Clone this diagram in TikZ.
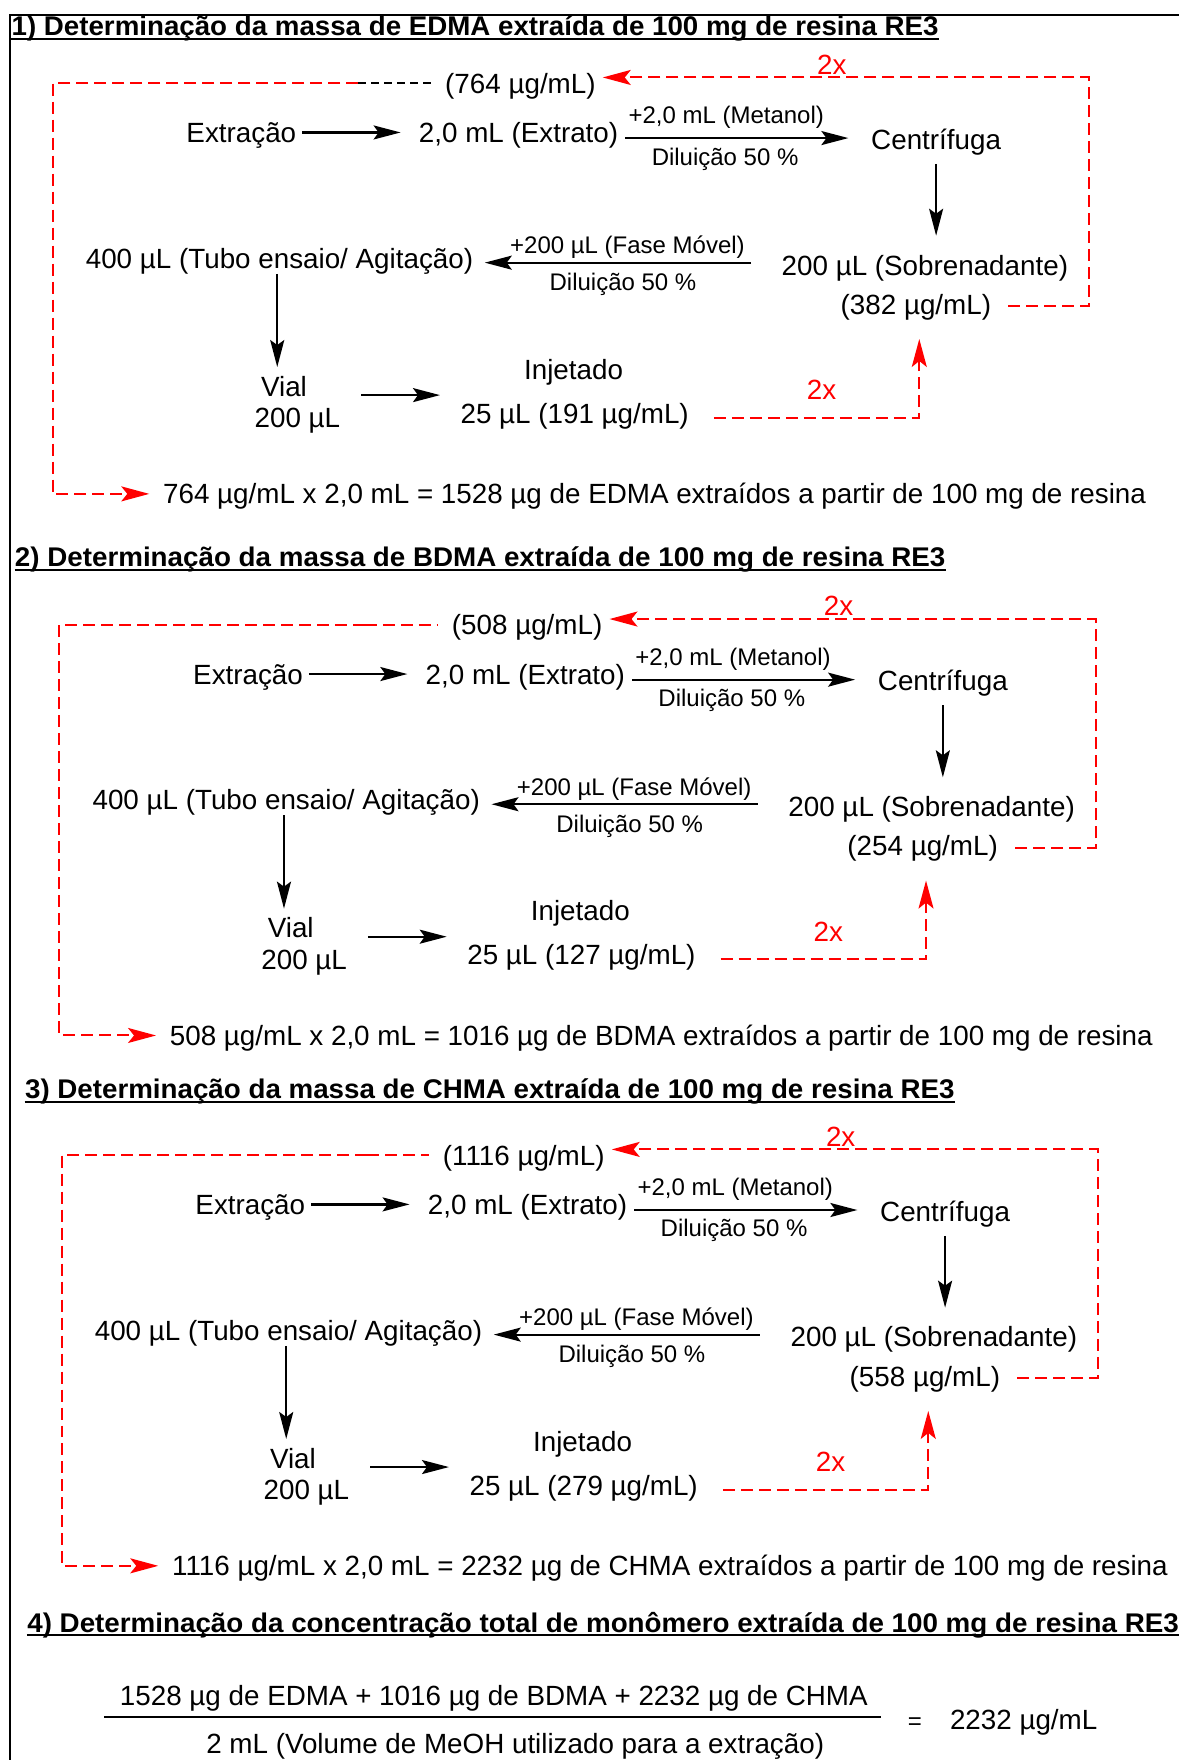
\documentclass[tikz,border=0pt]{standalone}
\usepackage{fontspec}
\setmainfont{Liberation Sans}
\usetikzlibrary{arrows.meta,calc}
\tikzset{
 txt/.style={inner sep=0pt, anchor=base, font=\fontsize{13.9}{16}\selectfont},
 sm/.style={inner sep=0pt, anchor=base, font=\fontsize{12}{14}\selectfont},
 ttl/.style={inner sep=0pt, anchor=base west, font=\bfseries\fontsize{13.5}{16}\selectfont},
 blk/.style={line width=1.1pt, -{Stealth[length=13.5pt,width=7pt,inset=2.5pt]}},
 rd/.style={red, line width=1pt, dash pattern=on 6pt off 3pt},
 rtip/.style={-{Stealth[length=14pt,width=7.5pt,inset=3pt]}},
 bd/.style={black, line width=0.8pt, dash pattern=on 4pt off 2.5pt},
 uline/.style={line width=1pt},
}
% #1 dx, #2 dy, #3 prefix, #4 top conc, #5 sob conc, #6 inj conc, #7 final text, #8 style of dashed piece
\newcommand\flowsec[8]{%
\begin{scope}[shift={(#1,#2)}]
 \node[txt, anchor=base east] (#3top) at (531,83) {(#4 µg/mL)};
 \node[txt] (#3ext) at (215,127) {Extração};
 \node[txt] (#3extr) at (462,127) {2,0 mL (Extrato)};
 \node[txt] (#3centr) at (834,133) {Centrífuga};
 \node[sm] (#3met) at (647,110) {+2,0 mL (Metanol)};
 \node[sm] (#3dil1) at (646,147) {Diluição 50 \%};
 \node[txt] (#3sob) at (824,245) {200 µL (Sobrenadante)};
 \node[txt] (#3sobc) at (816,280) {(#5 µg/mL)};
 \node[sm] (#3fase) at (559,226) {+200 µL (Fase Móvel)};
 \node[sm] (#3dil2) at (555,259) {Diluição 50 \%};
 \node[txt] (#3tubo) at (249,239) {400 µL (Tubo ensaio/ Agitação)};
 \node[txt] (#3vial) at (253,353) {Vial};
 \node[txt] (#3vialv) at (265,381) {200 µL};
 \node[txt] (#3inj) at (511,338) {Injetado};
 \node[txt] (#3injc) at (512,377) {25 µL (#6 µg/mL)};
 \node[txt, text=red] (#3twoa) at (741,66) {2x};
 \node[txt, text=red] (#3twob) at (732,356) {2x};
 \node[txt, anchor=base west] (#3fin) at (145,449) {#7};
 % black arrows
 \draw[blk] ($(#3ext.base east)+(5,-9)$) -- ($(#3extr.base west)+(-16,-9)$);
 \draw[blk] ($(#3extr.base east)+(6,-4)$) -- ($(#3centr.base west)+(-20,-10)$);
 \draw[blk] ($(#3centr.base)+(0,13)$) -- ($(#3sob.base)+(10,-35)$);
 \draw[blk] ($(#3sob.base west)+(-27,-11)$) -- ($(#3tubo.base east)+(10,-5)$);
 \draw[blk] ($(#3tubo.base)+(-2,5)$) -- ($(#3vial.base)+(-6,-26)$);
 \draw[blk] ($(#3vial.base east)+(48,-1)$) -- ($(#3injc.base west)+(-18,-25)$);
 % red dashed loops
 \draw[rd, rtip] (319,74) -- (47,74) -- (47,440) -- ($(#3fin.base west)+(-12,-9)$);
 \draw[rd, #8] (319,74) -- ($(#3top.base west)+(-12,-9)$);
 \draw[rd, rtip] ($(#3sobc.base east)+(15,-7)$) -| (970,69) -- ($(#3top.base east)+(6,-14)$);
 \draw[rd, rtip] ($(#3injc.base east)+(22,-5)$) -| ($(#3sobc.base)+(3,22)$);
\end{scope}}
\begin{document}
\begin{tikzpicture}[x=0.56143pt,y=-0.56143pt]
\useasboundingbox (0,0) rectangle (1050,1568);
\fill[white] (0,0) rectangle (1050,1568);
% frame
\draw[line width=1pt] (1050,13) -- (9,13) -- (9,1568);
% titles
\node[ttl] (t1) at (10,32) {\resizebox{463.7pt}{\height}{1) Determinação da massa de EDMA extraída de 100 mg de resina RE3}};
\draw[uline] ($(t1.base west)+(0,3)$) -- ($(t1.base east)+(0,3)$);
\node[ttl] (t2) at (13,505) {\resizebox{465.4pt}{\height}{2) Determinação da massa de BDMA extraída de 100 mg de resina RE3}};
\draw[uline] ($(t2.base west)+(0,3)$) -- ($(t2.base east)+(0,3)$);
\node[ttl] (t3) at (22,979) {\resizebox{464.9pt}{\height}{3) Determinação da massa de CHMA extraída de 100 mg de resina RE3}};
\draw[uline] ($(t3.base west)+(0,3)$) -- ($(t3.base east)+(0,3)$);
\node[ttl] (t4) at (24,1454) {\resizebox{576pt}{\height}{4) Determinação da concentração total de monômero extraída de 100 mg de resina RE3}};
\draw[uline] ($(t4.base west)+(0,3)$) -- ($(t4.base east)+(0,3)$);
% sections
\flowsec{0}{0}{a}{764}{382}{191}{764 µg/mL x 2,0 mL = 1528 µg de EDMA extraídos a partir de 100 mg de resina}{bd}
\flowsec{6}{482.5}{b}{508}{254}{127}{508 µg/mL x 2,0 mL = 1016 µg de BDMA extraídos a partir de 100 mg de resina}{red}
\flowsec{8}{955}{c}{1116}{558}{279}{1116 µg/mL x 2,0 mL = 2232 µg de CHMA extraídos a partir de 100 mg de resina}{red}
% section 4 fraction
\node[txt] (num) at (440,1519) {1528 µg de EDMA + 1016 µg de BDMA + 2232 µg de CHMA};
\node[txt] (den) at (459,1562) {2 mL (Volume de MeOH utilizado para a extração)};
\coordinate (fl) at (93,1530);
\coordinate (fr) at (785,1530);
\draw[line width=1.1pt] (fl) -- (fr);
\node[inner sep=0pt, anchor=base, font=\fontsize{12}{14}\selectfont] (eq) at (815,1541) {=};
\node[txt] (res) at (912,1541) {2232 µg/mL};
\end{tikzpicture}
\end{document}
